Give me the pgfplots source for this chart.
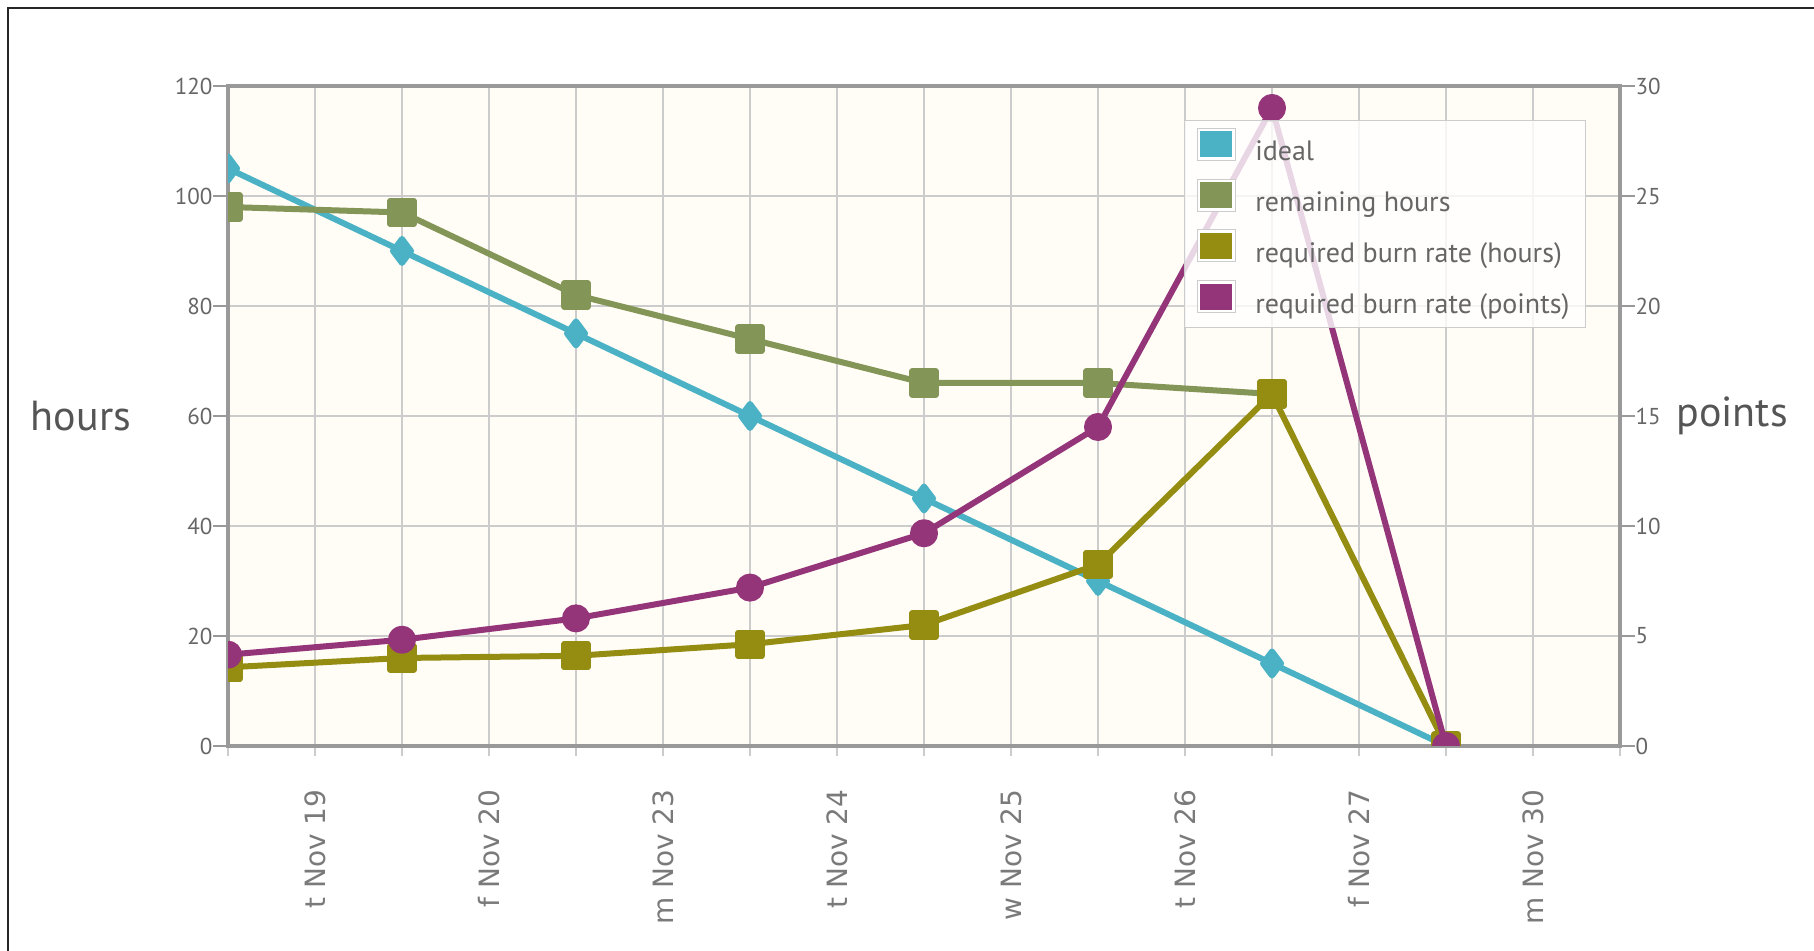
\documentclass[border=0pt]{standalone}
\usepackage{pgfplots}
\pgfplotsset{compat=1.18}
\usepackage{pgfplotstable}
\usepackage{fontspec}
\setmainfont{PT Sans}
\newfontfamily\dejavu{DejaVu Sans}
\newfontfamily\legfont{PT Sans}

\definecolor{cIdeal}{HTML}{4BB2C5}
\definecolor{cRem}{HTML}{839557}
\definecolor{cBurnH}{HTML}{958C12}
\definecolor{cBurnP}{HTML}{953579}
\definecolor{bgc}{HTML}{FFFDF6}
\definecolor{gridc}{HTML}{CCCCCC}
\definecolor{axc}{HTML}{999999}
\definecolor{txt}{HTML}{666666}
\definecolor{xtxt}{HTML}{7A7A7A}
\definecolor{labc}{HTML}{555555}

\pgfplotstableread{
x y
0 105
2 90
4 75
6 60
8 45
10 30
12 15
14 0
}\idealdata
\pgfplotstableread{
x y
0 98
2 97
4 82
6 74
8 66
10 66
12 64
}\remdata
\pgfplotstableread{
x y
0 14.3
2 16
4 16.4
6 18.5
8 22
10 33
12 64
14 0
}\burnhdata
\pgfplotstableread{
x y
0 4.15
2 4.83
4 5.8
6 7.2
8 9.67
10 14.5
12 29
14 0
}\burnpdata

\pgfplotsset{
  legsq/.style={legend image code/.code={
      \path[draw=none, fill=none] (0pt,0pt) -- (27pt,0pt);
      \path[draw=gridc, line width=0.5pt, fill=white, fill opacity=1] (0pt,-4pt) rectangle (19pt,12pt);
      \path[draw=none, fill=#1, fill opacity=1] (1.5pt,-2.5pt) rectangle (17.5pt,10.5pt);}},
  common/.style={
    at={(114pt,102.5pt)}, anchor=south west,
    scale only axis, width=696pt, height=330pt,
    xmin=0, xmax=16,
    axis line style={axc, line width=1.6pt},
    tick align=outside,
    /pgf/number format/assume math mode=true,
    yticklabel style={font=\fontsize{11.5}{13}\selectfont, text=txt},
    ytick style={axc, line width=0.8pt, /pgfplots/major tick length=7.5pt},
    clip marker paths=true,
  },
  series/.style={line width=3pt, line join=round, mark options={solid}},
}

\begin{document}
\begin{tikzpicture}
\useasboundingbox (0,0) rectangle (907pt,475.5pt);
\draw[line width=1.2pt, black!85] (4pt,0) -- (4pt,471.5pt) -- (907pt,471.5pt);

\begin{axis}[common,
  ymin=0, ymax=120,
  axis background/.style={fill=bgc},
  grid=major, major grid style={gridc, line width=0.8pt},
  xtick={0,...,16},
  xticklabels={,t Nov 19,,f Nov 20,,m Nov 23,,t Nov 24,,w Nov 25,,t Nov 26,,f Nov 27,,m Nov 30,},
  xtick pos=bottom, ytick pos=left,
  xtick style={gridc, line width=0.8pt, /pgfplots/major tick length=5pt},
  ytick={0,20,...,120},
  xticklabel style={font=\dejavu\fontsize{14}{16}\selectfont, text=xtxt, rotate=90, anchor=east, xshift=-14pt},
  ylabel={hours},
  every axis y label/.style={at={(0,0.5)}, anchor=center, xshift=-73.5pt, font=\fontsize{21}{24}\selectfont, text=labc},
]
\addplot[series, color=cIdeal, mark=diamond*, mark size=6pt] table {\idealdata};
\addplot[series, color=cRem, mark=square*, mark size=5.8pt] table {\remdata};
\addplot[series, color=cBurnH, mark=square*, mark size=5.8pt] table {\burnhdata};
\end{axis}

\begin{axis}[common,
  ymin=0, ymax=30,
  hide x axis,
  axis y line*=right,
  ytick={0,5,...,30},
  ylabel={points},
  every axis y label/.style={at={(1,0.5)}, anchor=center, xshift=56pt, font=\fontsize{21}{24}\selectfont, text=labc},
  legend cell align=left,
  legend style={at={(1,1)}, anchor=north east, xshift=-17pt, yshift=-17pt,
    fill=white, fill opacity=0.8, text opacity=1, draw=gridc, line width=0.6pt,
    font=\legfont\fontsize{14}{16}\selectfont, text=txt,
    row sep=5.5pt, inner xsep=6pt, inner ysep=3.5pt},
]
\addlegendimage{legsq=cIdeal}
\addlegendentry{ideal}
\addlegendimage{legsq=cRem}
\addlegendentry{remaining hours}
\addlegendimage{legsq=cBurnH}
\addlegendentry{required burn rate (hours)}
\addplot[series, color=cBurnP, mark=*, mark size=5.5pt, legsq=cBurnP] table {\burnpdata};
\addlegendentry{required burn rate (points)}
\end{axis}
\end{tikzpicture}
\end{document}
